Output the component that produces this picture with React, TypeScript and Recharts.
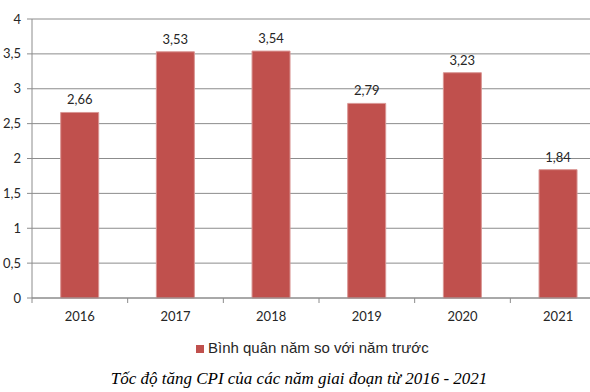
import React from 'react';
import {
  BarChart, Bar, XAxis, YAxis, CartesianGrid, Legend, LabelList
} from 'recharts';

const years = ['2016', '2017', '2018', '2019', '2020', '2021'];
const cpiValues = [2.66, 3.53, 3.54, 2.79, 3.23, 1.84];
const yTicks = [0, 0.5, 1, 1.5, 2, 2.5, 3, 3.5, 4];
const seriesName = 'Bình quân năm so với năm trước';
const caption = 'Tốc độ tăng CPI của các năm giai đoạn từ 2016 - 2021';

const data = years.map((year, i) => ({ year, value: cpiValues[i] }));

const CHART_W = 610;
const MARGIN = { top: 19, right: 4, left: 0, bottom: 40 };
const Y_W = 32;
const band = (CHART_W - MARGIN.left - MARGIN.right - Y_W) / years.length;

const comma = (v: number) => String(v).replace('.', ',');
const numFont = 'Lato, "Open Sans", sans-serif';

const YearTick = (props: any) => {
  const { x, y, payload } = props;
  return <g>
    <line x1={x - band / 2} x2={x - band / 2} y1={y - 8} y2={y - 3} stroke="#8c8c8c" />
    <text x={x} y={y} dy={15} textAnchor="middle" fontSize={13}
      fontFamily={numFont} fill="#262626">{payload.value}</text>
  </g>;
};

const App = () => {
  return <div style={{
    position: 'absolute', left: 0, top: 0, width: 590, height: 392,
    overflow: 'hidden', background: '#fff'
  }}>
    <BarChart
      width={CHART_W}
      height={392}
      data={data}
      barCategoryGap="30%"
      margin={MARGIN}
    >
      <CartesianGrid vertical={false} stroke="#8c8c8c" />
      <XAxis dataKey="year" height={30} tickLine={false} tick={<YearTick />}
        stroke="#8c8c8c" interval={0} />
      <YAxis width={Y_W} domain={[0, 4]} ticks={yTicks} tickFormatter={comma}
        tickSize={5} tickMargin={6} stroke="#8c8c8c"
        tick={{ fontSize: 13, fontFamily: numFont, fill: '#262626' }} />
      <Legend
        verticalAlign="bottom"
        align="left"
        height={24}
        iconType="square"
        iconSize={8}
        wrapperStyle={{ top: 339, left: 196, width: 300, fontSize: 15,
          fontFamily: '"Liberation Sans", Arial, sans-serif' }}
        formatter={(v: string) => <span style={{ color: '#262626' }}>{v}</span>}
      />
      <Bar dataKey="value" name={seriesName} fill="#C0504D" stroke="#d99694"
        strokeWidth={1} isAnimationActive={false}>
        <LabelList dataKey="value" position="top" offset={8}
          formatter={(v: any) => String(v).replace('.', ',')}
          style={{ fontSize: 13, fontFamily: numFont, fill: '#262626' }} />
      </Bar>
    </BarChart>
    <div style={{
      position: 'absolute', top: 369, left: 4, width: 590, textAlign: 'center',
      fontFamily: '"Liberation Serif", "Times New Roman", serif',
      fontStyle: 'italic', fontSize: 17, color: '#000'
    }}>{caption}</div>
  </div>;
};

export default App;
